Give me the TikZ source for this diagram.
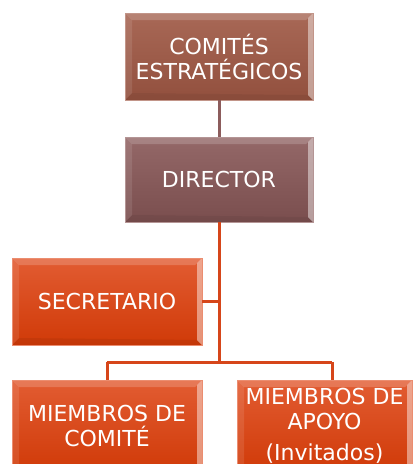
\documentclass[tikz,border=0pt]{standalone}
\usepackage{fontspec}
\setmainfont{DejaVu Sans}
\definecolor{brtop}{RGB}{168,104,86}
\definecolor{brbot}{RGB}{146,80,62}
\definecolor{mvtop}{RGB}{148,104,104}
\definecolor{mvbot}{RGB}{122,78,78}
\definecolor{ortop}{RGB}{226,92,50}
\definecolor{orbot}{RGB}{208,58,8}
\definecolor{brline}{RGB}{140,92,92}
\definecolor{orline}{RGB}{214,70,26}
\tikzset{
  bevel/.style={path picture={
    \fill[white,opacity=0.18] (path picture bounding box.north west) -- (path picture bounding box.north east)
      -- ([xshift=-7pt,yshift=-7pt]path picture bounding box.north east) -- ([xshift=7pt,yshift=-7pt]path picture bounding box.north west) -- cycle;
    \fill[white,opacity=0.10] (path picture bounding box.north west) -- ([xshift=7pt,yshift=-7pt]path picture bounding box.north west)
      -- ([xshift=7pt,yshift=7pt]path picture bounding box.south west) -- (path picture bounding box.south west) -- cycle;
    \fill[white,opacity=0.45] (path picture bounding box.north east) -- ([xshift=-5pt,yshift=-5pt]path picture bounding box.north east)
      -- ([xshift=-5pt,yshift=5pt]path picture bounding box.south east) -- (path picture bounding box.south east) -- cycle;
    \fill[black,opacity=0.06] (path picture bounding box.south west) -- ([xshift=7pt,yshift=7pt]path picture bounding box.south west)
      -- ([xshift=-5pt,yshift=5pt]path picture bounding box.south east) -- (path picture bounding box.south east) -- cycle;
  }},
  box/.style={bevel, rectangle, inner sep=0pt, align=center, text=white,
    font=\fontsize{22}{25}\selectfont},
  brbox/.style={box, top color=brtop, bottom color=brbot, draw=brtop!70!white, line width=0.8pt},
  mvbox/.style={box, top color=mvtop, bottom color=mvbot, draw=mvtop!70!white, line width=0.8pt},
  orbox/.style={box, top color=ortop, bottom color=orbot, draw=ortop!70!white, line width=0.8pt},
  brconn/.style={draw=brline, line width=3pt},
  orconn/.style={draw=orline, line width=3pt},
}
\begin{document}
\begin{tikzpicture}[x=1pt,y=-1pt]
\useasboundingbox (0,0) rectangle (417,464);
\clip (0,0) rectangle (417,464);
\fill[white] (0,0) rectangle (417,464);
\coordinate (j) at (219,362);
\coordinate (jl) at (107,362);
\coordinate (jr) at (332,362);
\node[brbox, minimum width=188pt, minimum height=87pt] (top) at (219,56.5) {COMITÉS\\ESTRATÉGICOS};
\node[mvbox, minimum width=188pt, minimum height=85pt] (dir) at (219,179.5) {DIRECTOR};
\node[orbox, minimum width=190pt, minimum height=87pt] (sec) at (107,301.5) {SECRETARIO};
\node[orbox, minimum width=190pt, minimum height=92pt] (bl) at (107,426) {MIEMBROS DE\\COMITÉ};
\node[orbox, minimum width=175pt, minimum height=92pt] (br) at (324.5,426) {MIEMBROS DE\\APOYO\\[6pt](Invitados)};
\draw[brconn] (top.south) -- (dir.north);
\draw[orconn] (dir.south) -- (j);
\draw[orconn] (sec.east) -- (sec.east -| j);
\draw[orconn] (jl) -- (jr);
\draw[orconn] (jl) -- (bl.north);
\draw[orconn] (jr) -- (jr |- br.north);
\end{tikzpicture}
\end{document}
